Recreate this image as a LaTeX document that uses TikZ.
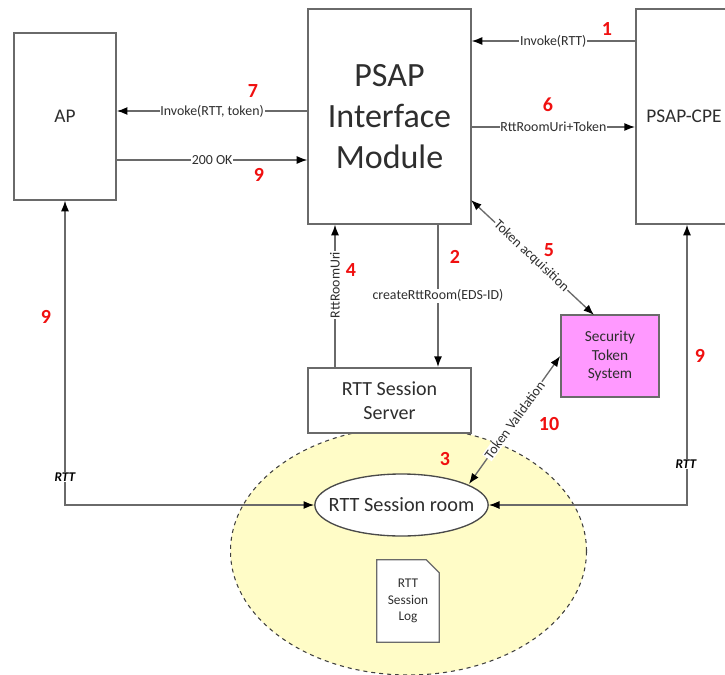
\documentclass[tikz,border=0pt]{standalone}
\usepackage{fontspec}
\setmainfont{Carlito}
\usetikzlibrary{arrows.meta,shapes.geometric,calc}
\definecolor{ln}{HTML}{6A6A6A}
\definecolor{tx}{HTML}{2E2E2E}
\definecolor{numred}{HTML}{F01010}
\tikzset{
  x=0.75pt,y=-0.75pt,
  boxn/.style={draw=ln,line width=1.2pt,fill=white,rectangle,inner sep=0pt,align=center,text=tx},
  conn/.style={draw=ln,line width=1pt,-{Latex[length=8pt,width=6pt,color=black]}},
  both/.style={draw=ln,line width=1pt,{Latex[length=8pt,width=6pt,color=black]}-{Latex[length=8pt,width=6pt,color=black]}},
  lbl/.style={fill=white,inner sep=0.6pt,text=tx,font=\fontsize{10.4pt}{12pt}\selectfont},
  rttlbl/.style={fill=white,inner sep=0.6pt,text=black,font=\fontsize{10pt}{12pt}\selectfont\bfseries\itshape},
  num/.style={text=numred,font=\fontsize{15pt}{17pt}\selectfont\bfseries,inner sep=0pt},
}
\begin{document}
\begin{tikzpicture}
\useasboundingbox (0,0) rectangle (725,675);
\clip (0,0) rectangle (725,675);
\fill[white] (0,0) rectangle (725,675);
% session area
\node[ellipse,draw=black!75,dashed,line width=0.8pt,fill=yellow!22!white,minimum width=267pt,minimum height=186pt,inner sep=0pt] (area) at (408.5,551) {};
% boxes
\node[boxn,minimum width=76.5pt,minimum height=125pt,font=\fontsize{14.5pt}{17pt}\selectfont] (ap) at (65,116.5) {AP};
\node[boxn,minimum width=122pt,minimum height=161pt,font=\fontsize{25.5pt}{31pt}\selectfont] (pim) at (389.5,116.5) {PSAP\\Interface\\Module};
\node[boxn,minimum width=122pt,minimum height=161pt,anchor=west,font=\fontsize{14.5pt}{17pt}\selectfont,text width=118pt,align=left] (cpe) at (635,116.5) {\hspace{6pt}PSAP-CPE};
\node[boxn,minimum width=122pt,minimum height=49pt,font=\fontsize{15pt}{18pt}\selectfont] (srv) at (389.5,400.5) {RTT Session\\Server};
\node[boxn,fill={rgb,255:red,255;green,153;blue,255},minimum width=73.5pt,minimum height=61.5pt,font=\fontsize{11.5pt}{14pt}\selectfont] (sts) at (610,356) {Security\\Token\\System};
\node[ellipse,draw=ln!70!black,line width=1pt,fill=white,minimum width=130pt,minimum height=46.5pt,inner sep=0pt] (room) at (401.5,505) {};
\node[inner sep=0pt,font=\fontsize{15.2pt}{18pt}\selectfont,text=tx] (roomtxt) at (room.center) {RTT Session room};
% log document
\node[inner sep=0pt,minimum width=46.5pt,minimum height=61.5pt] (log) at (408,601) {};
\draw[draw=ln,line width=1pt,fill=white] (log.north west) -- ($(log.north east)+(-13,0)$) -- ($(log.north east)+(0,13)$) -- (log.south east) -- (log.south west) -- cycle;
\node[inner sep=0pt,align=center,text=tx,font=\fontsize{10pt}{12.4pt}\selectfont] (logtxt) at (log.center) {RTT\\Session\\Log};
% connectors
\path[conn] (cpe.west |- 0,41) -- node[lbl,pos=0.5] (l1) {Invoke(RTT)} (pim.east |- 0,41);
\path[conn] (pim.east |- 0,127) -- node[lbl,pos=0.5] (l2) {RttRoomUri+Token} (cpe.west |- 0,127);
\path[conn] (pim.west |- 0,111) -- node[lbl,pos=0.5] (l3) {Invoke(RTT, token)} (ap.east |- 0,111);
\path[conn] (ap.east |- 0,160) -- node[lbl,pos=0.5] (l4) {200 OK} (pim.west |- 0,160);
\path[conn] (438,0 |- pim.south) -- node[lbl,pos=0.5] (l5) {createRttRoom(EDS-ID)} (438,0 |- srv.north);
\path[conn] (335,0 |- srv.north) -- node[lbl,pos=0.576,rotate=90] (l6) {RttRoomUri} (335,0 |- pim.south);
\coordinate (pimc) at (471,200);
\coordinate (stst) at (594,315);
\path[both] (pimc) -- node[lbl,pos=0.49,rotate=-43.1] (l7) {Token acquisition} (stst);
\coordinate (roomtop) at (469,484);
\path[both] (sts.west) -- node[lbl,pos=0.5,rotate=54] (l8) {Token Validation} (roomtop);
\coordinate (apb) at (65,505);
\coordinate (cpeb) at (687,505);
\path[both] (ap.south) -- (apb) -- (room.west);
\path[both] (687,0 |- cpe.south) -- (cpeb) -- (room.east);
\node[rttlbl] (r1) at (65,477) {RTT};
\node[rttlbl] (r2) at (686,464) {RTT};
% numbers
\node[num] (n1) at (607,29) {1};
\node[num] (n7) at (253,91) {7};
\node[num] (n6) at (548,105) {6};
\node[num] (n9a) at (259,175) {9};
\node[num] (n2) at (455,257) {2};
\node[num] (n4) at (351,270) {4};
\node[num] (n5) at (549,250) {5};
\node[num] (n9b) at (46,317) {9};
\node[num] (n9c) at (700,356) {9};
\node[num] (n10) at (549,424) {10};
\node[num] (n3) at (445,459) {3};
\end{tikzpicture}
\end{document}
